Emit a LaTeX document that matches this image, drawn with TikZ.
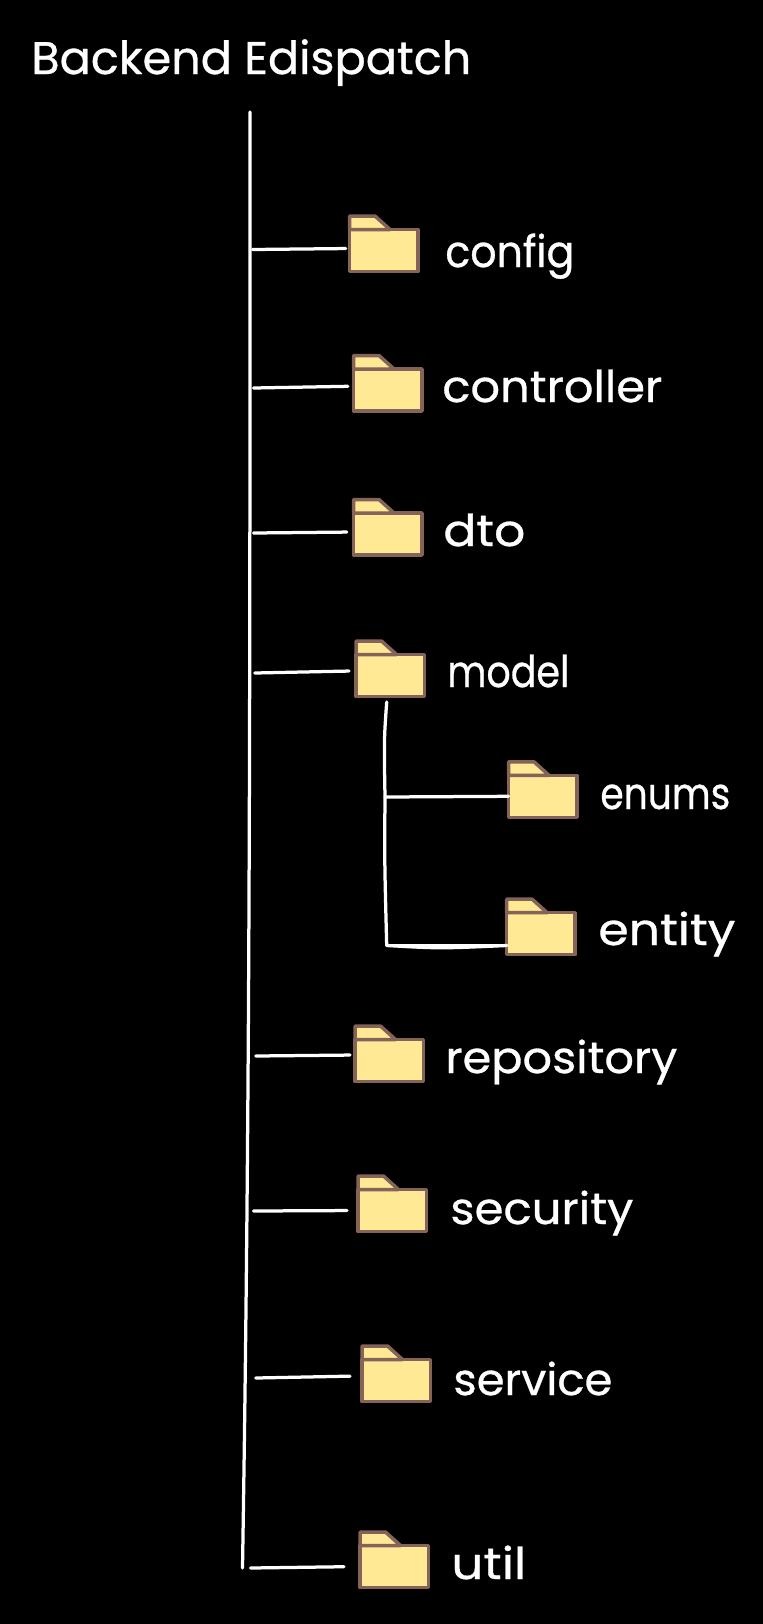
\documentclass[tikz,border=0pt]{standalone}
\usepackage{xcolor}
\usepackage{fontspec}
\setmainfont{Poppins}[FakeBold=0.7]
\usepackage{tikz}

\definecolor{folderfill}{HTML}{FFE994}
\definecolor{folderline}{HTML}{846358}

\tikzset{
	folder/.style={draw=folderline, fill=folderfill, line width=0.07cm, line join=round, rectangle, outer sep=0,
		minimum width=1.37cm, minimum height=0.84cm, anchor=north west, inner sep=0},
	foldertab/.style={draw=folderline, fill=folderfill, line width=0.07cm, line join=round},
	foldername/.style={text=white, anchor=base west, inner sep=0, font=\fontsize{25}{30}\selectfont},
	branch/.style={draw=white, line width=0.065cm, line cap=round}
}

\begin{document}
\begin{tikzpicture}[x=0.02cm, y=-0.02cm]

\fill[black] (0,0) rectangle (763,1624);
\useasboundingbox (0,0) rectangle (763,1624);

\node[foldername, font=\fontsize{26}{30}\selectfont] (title) at (31,74) {\resizebox{8.8cm}{\height}{Backend Edispatch}};

\coordinate (trunktop) at (250,112);
\coordinate (trunkbot) at (242.5,1568);
\draw[branch] (trunktop) .. controls (250,700) and (250,1100) .. (trunkbot);

% folders, x and y of the body, then the text and its width
\foreach \n/\fx/\fy/\tx/\ty/\t/\w in {
	config/349.5/229.5/445/267/config/2.58cm,
	controller/353.5/369/442/402/controller/4.4cm,
	dto/353.5/513/443/546/dto/1.64cm,
	model/356/654.5/447/687/model/2.44cm,
	enums/508.5/775.3/600/809/enums/2.6cm,
	entity/506.7/912.7/598/945/entity/2.74cm,
	repository/355/1039.5/445/1073/repository/4.64cm,
	security/358/1189.5/450/1224/security/3.66cm,
	service/362/1359.5/453/1395/service/3.18cm,
	util/360/1545.5/451/1579/util/1.5cm}{
	\node[folder] (f\n) at (\fx,\fy) {};
	\draw[foldertab] (f\n.north west) -- ++(0,-13.5) -- ++(25.5,0) -- ++(15,13.5) -- cycle;
	\node[foldername] (t\n) at (\tx,\ty) {\resizebox{\w}{\height}{\t}};
}

% branches from the trunk
\foreach \n/\bx/\by/\gap/\dy in {
	config/252.6/249.5/3.7/2,
	controller/253.6/388/5.6/3.8,
	dto/253.6/533/6.7/2,
	model/254.7/673/7/4.6,
	repository/255.7/1056/5/5.5,
	security/253.6/1211/11/0,
	service/255.7/1378/12/4.6,
	util/250.5/1568/16/0}{
	\coordinate (b\n) at (\bx,\by);
	\draw[branch, shorten >=\gap*0.02cm] (b\n) -- ([yshift=\dy*0.02cm]f\n.west);
}

\coordinate (modeltop) at (386.7,702);
\coordinate (modelmid) at (385,797);
\coordinate (modelcorner) at (386.7,945.5);
\draw[branch] (modeltop) .. controls (384,740) .. (modelmid) .. controls (384.5,860) .. (modelcorner);
\draw[branch] (modelmid) -- (fenums.west);
\draw[branch] (modelcorner) -- (fentity.west |- modelcorner);
\draw[branch] (modelcorner) .. controls (440,948.5) .. (fentity.west |- modelcorner);

\end{tikzpicture}
\end{document}
